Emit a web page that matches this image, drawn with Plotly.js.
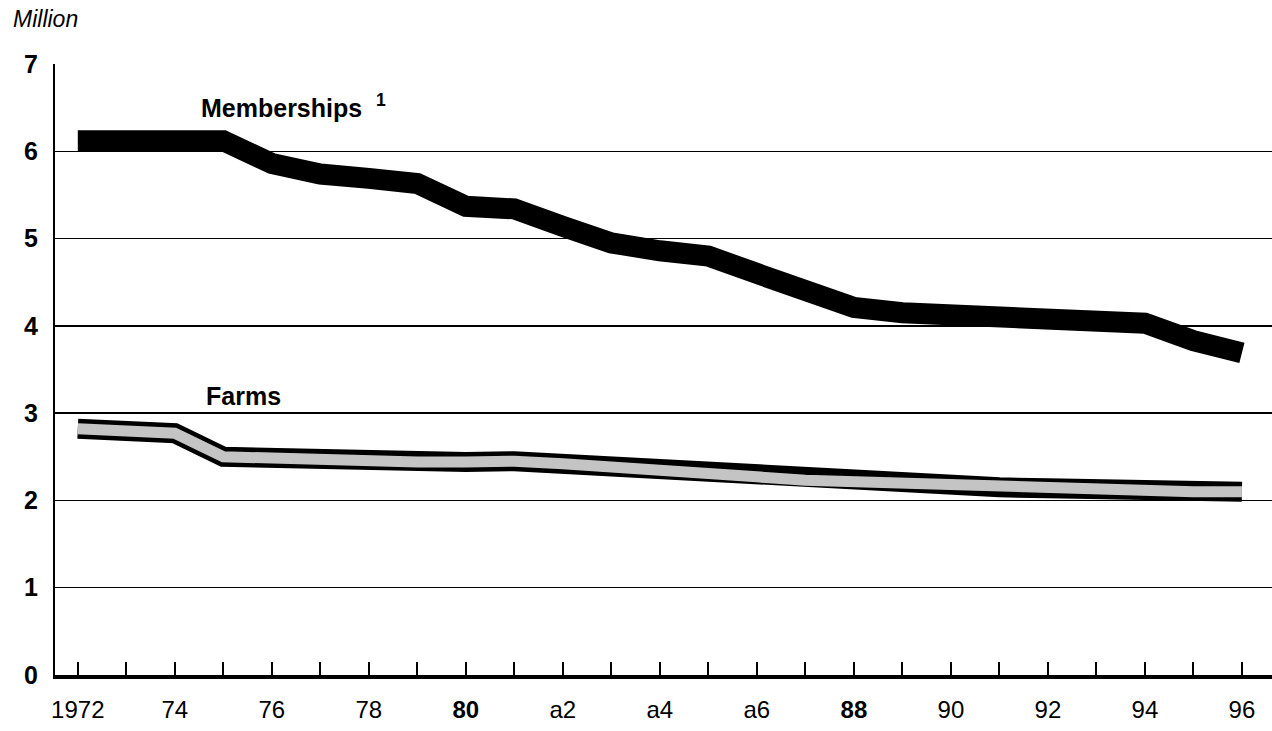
<!DOCTYPE html>
<html>
<head>
<meta charset="utf-8">
<script src="https://cdn.plot.ly/plotly-3.0.1.min.js"></script>
<style>html,body{margin:0;padding:0;background:#fff;}#chart{width:1272px;height:731px;}</style>
</head>
<body>
<div id="chart"></div>
<script>
// ---- data ----
const years = [1972,1973,1974,1975,1976,1977,1978,1979,1980,1981,1982,1983,1984,1985,1986,1987,1988,1989,1990,1991,1992,1993,1994,1995,1996];
const memberships = [6.12,6.12,6.10,6.12,5.86,5.74,5.69,5.63,5.37,5.34,5.14,4.95,4.86,4.80,4.60,4.40,4.21,4.15,4.13,4.10,4.10,4.06,4.03,3.83,3.69];
const farms = [2.82,2.79,2.77,2.50,2.48,2.46,2.44,2.44,2.44,2.45,2.42,2.39,2.35,2.31,2.27,2.23,2.21,2.20,2.17,2.15,2.14,2.12,2.09,2.10,2.10];
const xTickVals = [1972,1974,1976,1978,1980,1982,1984,1986,1988,1990,1992,1994,1996];
const xTickText = ['1972','74','76','78','<b>80</b>','a2','a4','a6','<b>88</b>','90','92','94','96'];
const yTickVals = [0,1,2,3,4,5,6,7];
const yTickText = ['0','1','2','3','4','5','6','7'];

const FONT = 'Liberation Sans, Arial, Helvetica, sans-serif';

const traces = [
  {x: years, y: memberships, type: 'scatter', mode: 'lines',
   line: {color: '#000', width: 21}, hoverinfo: 'skip'},
  {x: years, y: farms, type: 'scatter', mode: 'lines',
   line: {color: '#000', width: 20}, hoverinfo: 'skip'},
  {x: years, y: farms, type: 'scatter', mode: 'lines',
   line: {color: '#c4c4c4', width: 11}, hoverinfo: 'skip'}
];

const layout = {
  width: 1272, height: 731,
  margin: {l: 55, r: 0, t: 64, b: 56},
  paper_bgcolor: '#fff', plot_bgcolor: '#fff',
  showlegend: false,
  font: {family: FONT, color: '#000'},
  xaxis: {
    range: [1971.53, 1996.62],
    tickmode: 'array', tickvals: xTickVals, ticktext: xTickText,
    ticks: 'inside', ticklen: 13, tickwidth: 2, tickcolor: '#000',
    minor: {tickmode: 'linear', tick0: 1972, dtick: 1, ticks: 'inside', ticklen: 13, tickwidth: 2, tickcolor: '#000', showgrid: false},
    showgrid: false, zeroline: false,
    showline: true, linecolor: '#000', linewidth: 4,
    tickfont: {family: FONT, size: 24, color: '#000'},
    ticklabelstandoff: 10,
    fixedrange: true
  },
  yaxis: {
    range: [0, 7],
    tickmode: 'array', tickvals: yTickVals, ticktext: yTickText,
    ticks: '', showgrid: true, gridcolor: '#000', gridwidth: 1.4,
    zeroline: false,
    showline: true, linecolor: '#000', linewidth: 2,
    tickfont: {family: FONT, size: 25, color: '#000', weight: 'bold'},
    ticklabelstandoff: 10,
    fixedrange: true
  },
  annotations: [
    {text: '<i>Million</i>', xref: 'paper', yref: 'paper', x: -0.036, y: 1.074,
     xanchor: 'left', yanchor: 'middle', showarrow: false,
     font: {family: FONT, size: 23, color: '#000'}},
    {text: '<b>Memberships</b>  <sup><b>1</b></sup>', xref: 'x', yref: 'y', x: 1974.5, y: 6.52,
     xanchor: 'left', yanchor: 'middle', showarrow: false,
     font: {family: FONT, size: 25, color: '#000'}},
    {text: '<b>Farms</b>', xref: 'x', yref: 'y', x: 1974.6, y: 3.2,
     xanchor: 'left', yanchor: 'middle', showarrow: false,
     font: {family: FONT, size: 25, color: '#000'}}
  ]
};

Plotly.newPlot('chart', traces, layout, {staticPlot: true, displayModeBar: false});
</script>
</body>
</html>
